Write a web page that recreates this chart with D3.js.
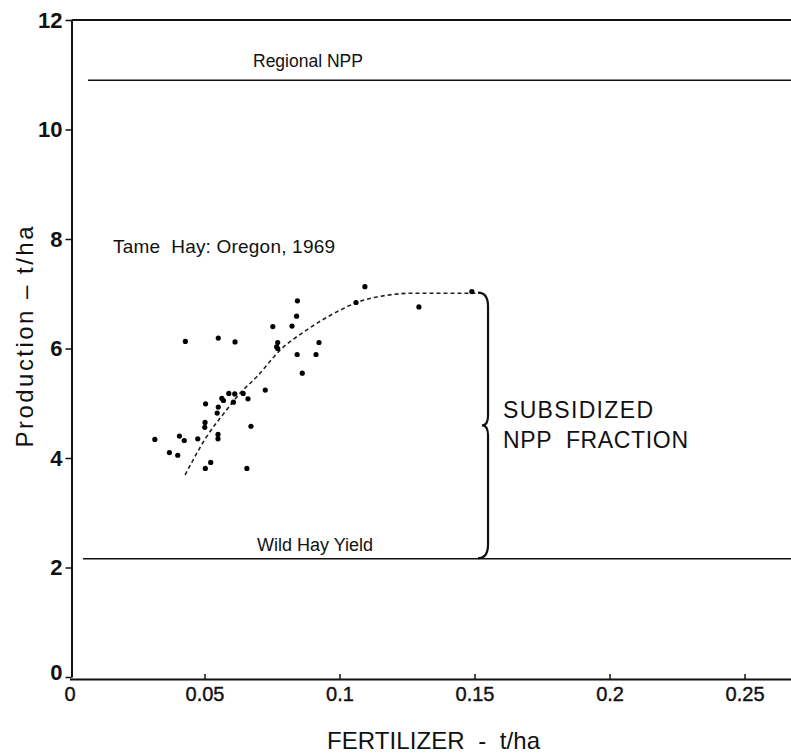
<!DOCTYPE html>
<html>
<head>
<meta charset="utf-8">
<script src="https://cdn.jsdelivr.net/npm/d3@7"></script>
<style>
  html, body { margin: 0; padding: 0; background: #fff; }
  svg { display: block; font-family: "Liberation Sans", Arial, sans-serif; }
  .pre { white-space: pre; }
</style>
</head>
<body>
<div id="chart"></div>
<script>
var chart_width = 791,
    chart_height = 753;

// Tame hay observations (fertilizer t/ha, production t/ha)
var fertilizer = [0.0429, 0.0551, 0.0613, 0.0844, 0.0841, 0.0753, 0.0824, 0.0771, 0.0767, 0.0771,
                  0.0924, 0.0843, 0.0913, 0.0862, 0.0725, 0.0590, 0.0612, 0.0643, 0.0564, 0.0570,
                  0.0607, 0.0661, 0.0504, 0.0551, 0.0547, 0.0672, 0.0502, 0.0501, 0.0550, 0.0550,
                  0.0475, 0.0407, 0.0425, 0.0316, 0.0370, 0.0401, 0.0523, 0.0503, 0.0657, 0.1094,
                  0.1061, 0.1294, 0.1490];
var production = [6.13, 6.19, 6.12, 6.87, 6.59, 6.40, 6.41, 6.11, 6.03, 6.00,
                  6.11, 5.89, 5.89, 5.55, 5.24, 5.18, 5.17, 5.18, 5.09, 5.05,
                  5.02, 5.08, 4.99, 4.93, 4.82, 4.58, 4.65, 4.56, 4.43, 4.35,
                  4.35, 4.40, 4.32, 4.34, 4.10, 4.05, 3.92, 3.81, 3.81, 7.13,
                  6.84, 6.76, 7.04];

// fitted (dashed) response curve
var curveX = [0.0428, 0.0508, 0.0582, 0.0631, 0.0693, 0.0780, 0.0879, 0.1002, 0.1064, 0.1187, 0.1273, 0.1520];
var curveY = [3.69, 4.39, 4.88, 5.18, 5.48, 5.97, 6.34, 6.70, 6.84, 6.98, 7.01, 7.01];

var xTicks = [0, 0.05, 0.1, 0.15, 0.2, 0.25];
var xTickLabels = ["0", "0.05", "0.1", "0.15", "0.2", "0.25"];
var yTicks = [0, 2, 4, 6, 8, 10, 12];

var regionalNPP = 10.9,
    wildHayYield = 2.16;
var braceX = 0.155, braceTop = 7.02, braceBottom = 2.17;

var x = d3.scaleLinear().domain([0, 0.2672]).range([69.5, 791]);
var y = d3.scaleLinear().domain([0, 12]).range([677, 20]);

var svg = d3.select("#chart")
    .append("svg")
    .attr("width", chart_width)
    .attr("height", chart_height);

// frame top line
svg.append("line")
    .attr("x1", x(0) + 2).attr("x2", chart_width)
    .attr("y1", y(12)).attr("y2", y(12))
    .attr("stroke", "#111").attr("stroke-width", 2);

// x axis (ticks point inward)
var xAxis = svg.append("g")
    .attr("transform", "translate(0," + (y(0) + 2) + ")")
    .call(d3.axisBottom(x)
        .tickValues(xTicks)
        .tickFormat(function (d, i) { return xTickLabels[i]; })
        .tickSizeInner(-5)
        .tickSizeOuter(0)
        .tickPadding(8));
xAxis.select(".domain").attr("stroke", "#111").attr("stroke-width", 2);
xAxis.selectAll(".tick line").attr("stroke", "#111").attr("stroke-width", 1.5);
xAxis.selectAll(".tick text")
    .attr("font-size", 20).attr("fill", "#111")
    .attr("font-family", "Liberation Sans, Arial, sans-serif")
    .attr("stroke", "#111").attr("stroke-width", 0.4);
xAxis.selectAll(".tick").filter(function (d) { return d === 0; }).select("line").remove();

// y axis
var yAxis = svg.append("g")
    .attr("transform", "translate(" + (x(0) + 2) + ",0)")
    .call(d3.axisLeft(y)
        .tickValues(yTicks)
        .tickSizeInner(6)
        .tickSizeOuter(0)
        .tickPadding(3));
yAxis.select(".domain").attr("stroke", "#111").attr("stroke-width", 2);
yAxis.selectAll(".tick line").attr("stroke", "#111").attr("stroke-width", 1.5);
yAxis.selectAll(".tick text")
    .attr("font-size", 22).attr("font-weight", "bold").attr("fill", "#111")
    .attr("font-family", "Liberation Sans, Arial, sans-serif");
yAxis.selectAll(".tick").filter(function (d) { return d === 0; })
    .select("text").attr("dy", "0.1em");

// reference lines
svg.append("line")
    .attr("x1", 88).attr("x2", chart_width)
    .attr("y1", y(regionalNPP)).attr("y2", y(regionalNPP))
    .attr("stroke", "#111").attr("stroke-width", 1.6);
svg.append("line")
    .attr("x1", 83).attr("x2", chart_width)
    .attr("y1", y(wildHayYield)).attr("y2", y(wildHayYield))
    .attr("stroke", "#111").attr("stroke-width", 1.6);

svg.append("text")
    .attr("x", 253).attr("y", y(regionalNPP) - 13)
    .attr("font-size", 17.5).attr("fill", "#111")
    .text("Regional NPP");
svg.append("text")
    .attr("x", 257).attr("y", y(wildHayYield) - 8)
    .attr("font-size", 18).attr("fill", "#111")
    .text("Wild Hay Yield");
svg.append("text")
    .attr("class", "pre")
    .attr("x", 113).attr("y", 253)
    .attr("font-size", 19).attr("fill", "#111")
    .attr("textLength", 222).attr("lengthAdjust", "spacing")
    .text("Tame  Hay: Oregon, 1969");

// dashed curve
var curveData = curveX.map(function (d, i) { return [d, curveY[i]]; });
svg.append("path")
    .datum(curveData)
    .attr("fill", "none")
    .attr("stroke", "#222")
    .attr("stroke-width", 1.6)
    .attr("stroke-dasharray", "4,3")
    .attr("d", d3.line()
        .x(function (d) { return x(d[0]); })
        .y(function (d) { return y(d[1]); })
        .curve(d3.curveMonotoneX));

// points
var points = fertilizer.map(function (d, i) { return { f: d, p: production[i] }; });
svg.selectAll("circle.obs")
    .data(points)
    .enter()
    .append("circle")
    .attr("class", "obs")
    .attr("cx", function (d) { return x(d.f); })
    .attr("cy", function (d) { return y(d.p); })
    .attr("r", 2.6)
    .attr("fill", "#000");

// brace
var bx = x(braceX), bt = y(braceTop), bb = y(braceBottom), bm = (bt + bb) / 2;
var brace = d3.path();
brace.moveTo(bx - 10, bt);
brace.quadraticCurveTo(bx, bt, bx, bt + 14);
brace.lineTo(bx, bm - 10);
brace.quadraticCurveTo(bx, bm, bx - 6, bm);
brace.quadraticCurveTo(bx, bm, bx, bm + 10);
brace.lineTo(bx, bb - 14);
brace.quadraticCurveTo(bx, bb, bx - 10, bb);
svg.append("path")
    .attr("d", brace.toString())
    .attr("fill", "none")
    .attr("stroke", "#111")
    .attr("stroke-width", 2.2);

svg.append("text")
    .attr("x", 503).attr("y", 418)
    .attr("font-size", 23).attr("fill", "#111")
    .attr("textLength", 150).attr("lengthAdjust", "spacing")
    .text("SUBSIDIZED");
svg.append("text")
    .attr("class", "pre")
    .attr("x", 503).attr("y", 448)
    .attr("font-size", 23).attr("fill", "#111")
    .attr("textLength", 185).attr("lengthAdjust", "spacing")
    .text("NPP  FRACTION");

// axis titles
svg.append("text")
    .attr("class", "pre")
    .attr("transform", "translate(33,337) rotate(-90)")
    .attr("text-anchor", "middle")
    .attr("font-size", 24).attr("fill", "#111")
    .attr("textLength", 221).attr("lengthAdjust", "spacing")
    .text("Production – t/ha");
svg.append("text")
    .attr("class", "pre")
    .attr("x", 327).attr("y", 749)
    .attr("font-size", 24).attr("fill", "#111")
    .attr("textLength", 213).attr("lengthAdjust", "spacing")
    .text("FERTILIZER  -  t/ha");
</script>
</body>
</html>
